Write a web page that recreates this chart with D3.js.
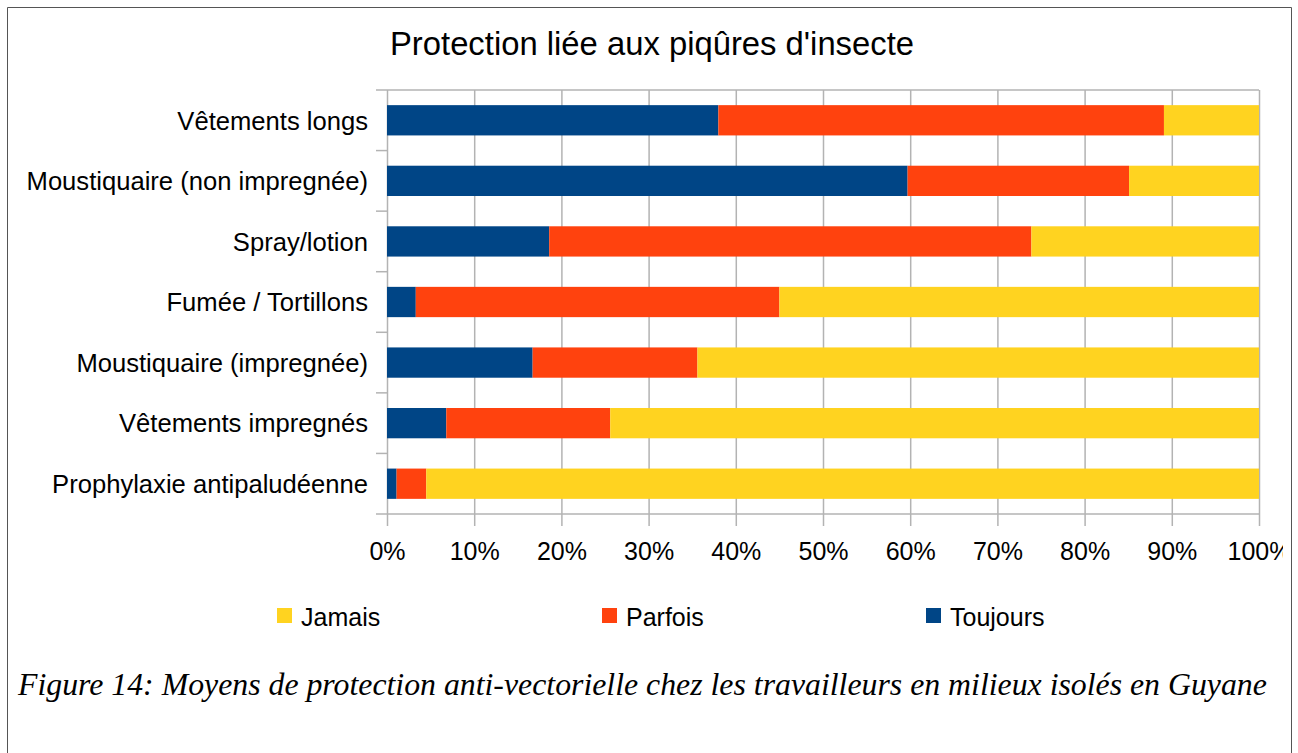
<!DOCTYPE html>
<html>
<head>
<meta charset="utf-8">
<script src="https://cdn.jsdelivr.net/npm/d3@7"></script>
<style>
  body { margin: 0; background: #fff; }
  text { font-family: "Liberation Sans", Arial, sans-serif; fill: #000; }
  text.caption { font-family: "Liberation Serif", "Times New Roman", serif; font-style: italic; }
</style>
</head>
<body>
<div id="chart"></div>
<script>
// chart data (percent of respondents)
const categories = [
  'Vêtements longs',
  'Moustiquaire (non impregnée)',
  'Spray/lotion',
  'Fumée / Tortillons',
  'Moustiquaire (impregnée)',
  'Vêtements impregnés',
  'Prophylaxie antipaludéenne'
];
const toujours = [38.0, 59.7, 18.6, 3.3, 16.7, 6.8, 1.1];
const parfois = [51.1, 25.4, 55.3, 41.7, 18.9, 18.8, 3.4];
const jamais = [10.9, 14.9, 26.1, 55.0, 64.4, 74.4, 95.5];
const xTicks = [0, 10, 20, 30, 40, 50, 60, 70, 80, 90, 100];

const seriesNames = ['Toujours', 'Parfois', 'Jamais'];
const legendOrder = ['Jamais', 'Parfois', 'Toujours'];
const colors = { Toujours: '#004586', Parfois: '#ff420e', Jamais: '#ffd320' };

const svgWidth = 1298;
const svgHeight = 753;
const plot = { left: 387, right: 1259, top: 90, bottom: 514 };

const svg = d3.select('#chart')
  .append('svg')
  .attr('width', svgWidth)
  .attr('height', svgHeight);

// frame around the figure
svg.append('path')
  .attr('d', `M7.5,${svgHeight} V7.5 H1291.5 V${svgHeight}`)
  .attr('fill', 'none')
  .attr('stroke', '#555')
  .attr('stroke-width', 1);

svg.append('clipPath')
  .attr('id', 'chartClip')
  .append('rect')
  .attr('x', 8).attr('y', 8)
  .attr('width', 1283 - 8).attr('height', 600);

const chartGroup = svg.append('g').attr('clip-path', 'url(#chartClip)');

// scales
const xScale = d3.scaleLinear().domain([0, 100]).range([plot.left, plot.right]);
const yScale = d3.scaleBand()
  .domain(categories)
  .range([plot.top, plot.bottom])
  .paddingInner(0.5)
  .paddingOuter(0.25);

// vertical gridlines + bottom axis
const bottomAxis = d3.axisBottom(xScale)
  .tickValues(xTicks)
  .tickSize(-(plot.bottom - plot.top))
  .tickSizeOuter(0)
  .tickFormat(d => `${d}%`);

const xAxis = chartGroup.append('g')
  .attr('transform', `translate(0, ${plot.bottom})`)
  .call(bottomAxis);
xAxis.select('.domain').remove();
xAxis.selectAll('.tick line')
  .attr('y2', 12)
  .attr('y1', -(plot.bottom - plot.top))
  .attr('stroke', '#b3b3b3')
  .attr('stroke-width', 1.5);
xAxis.selectAll('.tick text')
  .attr('y', 46)
  .attr('dy', 0)
  .attr('font-size', '25px')
  .attr('fill', '#000');

// category boundary ticks on the left axis
const step = yScale.step();
const gap = step - yScale.bandwidth();
const boundaries = categories.map(c => yScale(c) - gap / 2).concat([plot.bottom]);
chartGroup.selectAll('.yTick')
  .data(boundaries)
  .enter()
  .append('line')
  .attr('x1', plot.left - 11)
  .attr('x2', d => d === plot.top || d === plot.bottom ? plot.right : plot.left)
  .attr('y1', d => d)
  .attr('y2', d => d)
  .attr('stroke', '#b3b3b3')
  .attr('stroke-width', 1.5);

// stacked bars
const rows = categories.map((c, i) => ({
  category: c, Toujours: toujours[i], Parfois: parfois[i], Jamais: jamais[i]
}));
const stacked = d3.stack().keys(seriesNames)(rows);

chartGroup.selectAll('.series')
  .data(stacked)
  .enter()
  .append('g')
  .attr('fill', d => colors[d.key])
  .selectAll('rect')
  .data(d => d)
  .enter()
  .append('rect')
  .attr('x', d => xScale(d[0]))
  .attr('width', d => xScale(d[1]) - xScale(d[0]))
  .attr('y', d => yScale(d.data.category))
  .attr('height', yScale.bandwidth());

// category labels
chartGroup.selectAll('.catLabel')
  .data(categories)
  .enter()
  .append('text')
  .attr('x', 368)
  .attr('y', d => yScale(d) + yScale.bandwidth() / 2)
  .attr('dy', '0.36em')
  .attr('text-anchor', 'end')
  .attr('font-size', '25.6px')
  .text(d => d);

// title
svg.append('text')
  .attr('x', 652)
  .attr('y', 55)
  .attr('text-anchor', 'middle')
  .attr('font-size', '32.8px')
  .text('Protection liée aux piqûres d\'insecte');

// legend
const legendX = [277, 602, 926];
const legend = svg.selectAll('.legendItem')
  .data(legendOrder)
  .enter()
  .append('g')
  .attr('transform', (d, i) => `translate(${legendX[i]}, 608)`);
legend.append('rect')
  .attr('width', 15)
  .attr('height', 15)
  .attr('fill', d => colors[d]);
legend.append('text')
  .attr('x', 24)
  .attr('y', 18)
  .attr('font-size', '25px')
  .text(d => d);

// figure caption
svg.append('text')
  .attr('class', 'caption')
  .attr('x', 18)
  .attr('y', 695)
  .attr('font-size', '31.8px')
  .text('Figure 14: Moyens de protection anti-vectorielle chez les travailleurs en milieux isolés en Guyane');
</script>
</body>
</html>
